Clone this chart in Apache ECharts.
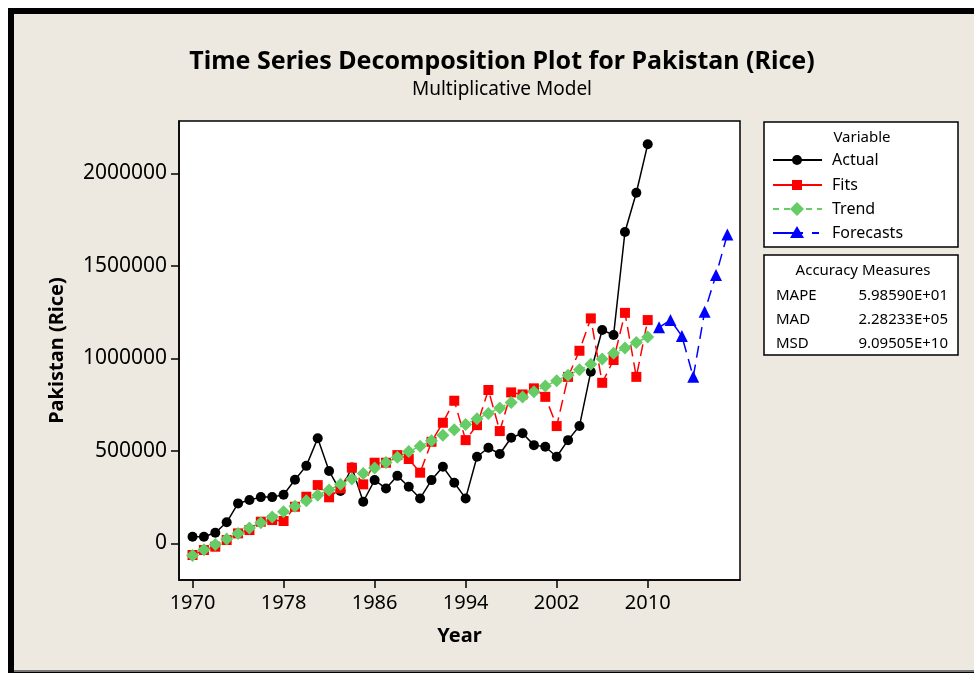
<!DOCTYPE html>
<html>
<head>
<meta charset="utf-8">
<script src="https://cdn.jsdelivr.net/npm/echarts@6/dist/echarts.min.js"></script>
<style>
    body { margin: 0; background: #fff; }
    #frame { position: absolute; left: 8px; top: 8px; width: 966px; height: 665px; background: #000; }
    #paper { position: absolute; left: 14px; top: 14px; width: 960px; height: 656px; background: #ede9e0; border-bottom: 2px solid #777; }
    #chart { position: absolute; left: 0; top: 0; width: 974px; height: 673px; }
</style>
</head>
<body>
<div id="frame"></div>
<div id="paper"></div>
<div id="chart"></div>
<script>
// yearly series 1970-2010
const years = [1970, 1971, 1972, 1973, 1974, 1975, 1976, 1977, 1978, 1979,
    1980, 1981, 1982, 1983, 1984, 1985, 1986, 1987, 1988, 1989,
    1990, 1991, 1992, 1993, 1994, 1995, 1996, 1997, 1998, 1999,
    2000, 2001, 2002, 2003, 2004, 2005, 2006, 2007, 2008, 2009, 2010];

const actual = [36000, 36000, 57000, 114000, 216000, 234000, 250000, 250000, 263000, 344000,
    419000, 568000, 391000, 283000, 410000, 225000, 342000, 297000, 365000, 306000,
    243000, 342000, 414000, 328000, 243000, 468000, 517000, 483000, 571000, 595000,
    531000, 522000, 468000, 558000, 634000, 928000, 1153000, 1126000, 1683000, 1895000, 2157000];

const fits = [-63000, -36000, -18000, 18000, 54000, 72000, 117000, 126000, 121000, 198000,
    252000, 315000, 249000, 297000, 409000, 319000, 436000, 436000, 477000, 456000,
    382000, 549000, 652000, 771000, 558000, 639000, 829000, 607000, 816000, 805000,
    838000, 792000, 634000, 900000, 1041000, 1216000, 868000, 991000, 1246000, 900000, 1207000];

const trend = [-65000, -35000, -6000, 24000, 53000, 83000, 112000, 142000, 171000, 201000,
    230000, 260000, 289000, 319000, 348000, 378000, 407000, 437000, 466000, 496000,
    525000, 555000, 584000, 614000, 643000, 673000, 702000, 732000, 761000, 791000,
    820000, 850000, 879000, 909000, 938000, 968000, 997000, 1027000, 1056000, 1086000, 1115000];

// forecasts 2011-2017
const fcYears = [2011, 2012, 2013, 2014, 2015, 2016, 2017];
const forecasts = [1168000, 1207000, 1121000, 900000, 1252000, 1450000, 1670000];

const xTicks = [1970, 1978, 1986, 1994, 2002, 2010];
const yTicks = [0, 500000, 1000000, 1500000, 2000000];

const measureNames = ['MAPE', 'MAD', 'MSD'];
const measureValues = ['5.98590E+01', '2.28233E+05', '9.09505E+10'];

const pairs = (xs, ys) => xs.map((x, i) => [x, ys[i]]);

const font = 'Noto Sans';
const chart = echarts.init(document.getElementById('chart'));

// legend boxes drawn by hand, Minitab style
const legendItems = [
    { name: 'Actual', color: '#000', symbol: 'circle', dash: 'solid' },
    { name: 'Fits', color: '#ff0000', symbol: 'rect', dash: 'solid' },
    { name: 'Trend', color: '#66cc66', symbol: 'diamond', dash: [6, 5] },
    { name: 'Forecasts', color: '#0000ff', symbol: 'triangle', dash: [30, 9, 7, 10] }
];
const rowY = [160, 185, 209, 233];
const graphics = [
    { type: 'rect', shape: { x: 764, y: 122, width: 194, height: 125 }, style: { fill: '#fff', stroke: '#000', lineWidth: 1.5 } },
    { type: 'text', x: 862, y: 138, style: { text: 'Variable', font: '15px ' + font, fill: '#000', align: 'center', verticalAlign: 'middle' } },
    { type: 'rect', shape: { x: 764, y: 255, width: 194, height: 100 }, style: { fill: '#fff', stroke: '#000', lineWidth: 1.5 } },
    { type: 'text', x: 863, y: 271, style: { text: 'Accuracy Measures', font: '15px ' + font, fill: '#000', align: 'center', verticalAlign: 'middle' } }
];
const symbolPath = {
    circle: (c) => ({ type: 'circle', shape: { cx: 797, cy: c, r: 5 } }),
    rect: (c) => ({ type: 'rect', shape: { x: 792, y: c - 5, width: 10, height: 10 } }),
    diamond: (c) => ({ type: 'polygon', shape: { points: [[797, c - 7], [804, c], [797, c + 7], [790, c]] } }),
    triangle: (c) => ({ type: 'polygon', shape: { points: [[797, c - 7], [804, c + 5], [790, c + 5]] } })
};
legendItems.forEach((it, i) => {
    const c = rowY[i];
    graphics.push({ type: 'line', shape: { x1: 773, y1: c, x2: 822, y2: c }, style: { stroke: it.color, lineWidth: 2, lineDash: it.dash } });
    graphics.push(Object.assign(symbolPath[it.symbol](c), { style: { fill: it.color } }));
    graphics.push({ type: 'text', x: 832, y: c, style: { text: it.name, font: '16px ' + font, fill: '#000', verticalAlign: 'middle' } });
});
measureNames.forEach((m, i) => {
    const c = [296, 320, 344][i];
    graphics.push({ type: 'text', x: 776, y: c, style: { text: m, font: '15px ' + font, fill: '#000', verticalAlign: 'middle' } });
    graphics.push({ type: 'text', x: 948, y: c, style: { text: measureValues[i], font: '15px ' + font, fill: '#000', align: 'right', verticalAlign: 'middle' } });
});

const option = {
    backgroundColor: 'transparent',
    animation: false,
    textStyle: { fontFamily: font },
    title: {
        text: 'Time Series Decomposition Plot for Pakistan (Rice)',
        subtext: 'Multiplicative Model',
        left: 497,
        textAlign: 'center',
        top: 44,
        itemGap: 6,
        textStyle: { fontSize: 25, fontWeight: 'bold', color: '#000' },
        subtextStyle: { fontSize: 19, color: '#000' }
    },
    grid: {
        left: 179, top: 121, width: 561, height: 459,
        show: true, backgroundColor: '#fff', borderColor: '#000', borderWidth: 1.5
    },
    xAxis: {
        type: 'value',
        min: 1968.81,
        max: 2018.11,
        name: 'Year',
        nameLocation: 'middle',
        nameGap: 46,
        nameTextStyle: { fontSize: 20, fontWeight: 'bold', color: '#000' },
        axisLine: { show: true, onZero: false, lineStyle: { color: '#000', width: 1.5 } },
        axisTick: { show: true, inside: false, length: 8, customValues: xTicks, lineStyle: { color: '#000', width: 1.5 } },
        axisLabel: { customValues: xTicks, fontSize: 20, color: '#000', margin: 13, formatter: v => String(v) },
        splitLine: { show: false }
    },
    yAxis: {
        type: 'value',
        min: -198000,
        max: 2283000,
        name: 'Pakistan (Rice)',
        nameLocation: 'middle',
        nameGap: 112,
        nameTextStyle: { fontSize: 20, fontWeight: 'bold', color: '#000' },
        axisLine: { show: true, onZero: false, lineStyle: { color: '#000', width: 1.5 } },
        axisTick: { show: true, inside: false, length: 8, customValues: yTicks, lineStyle: { color: '#000', width: 1.5 } },
        axisLabel: { customValues: yTicks, fontSize: 21, color: '#000', margin: 12, formatter: v => String(v) },
        splitLine: { show: false }
    },
    series: [
        {
            name: 'Actual', type: 'line', data: pairs(years, actual),
            symbol: 'circle', symbolSize: 10,
            itemStyle: { color: '#000' }, lineStyle: { color: '#000', width: 1.5 }
        },
        {
            name: 'Fits', type: 'line', data: pairs(years, fits),
            symbol: 'rect', symbolSize: 10,
            itemStyle: { color: '#ff0000' }, lineStyle: { color: '#ff0000', width: 1.5, type: [12, 6] }
        },
        {
            name: 'Trend', type: 'line', data: pairs(years, trend),
            symbol: 'diamond', symbolSize: 13,
            itemStyle: { color: '#66cc66' }, lineStyle: { color: '#66cc66', width: 1.5, type: [6, 5] }
        },
        {
            name: 'Forecasts', type: 'line', data: pairs(fcYears, forecasts),
            symbol: 'triangle', symbolSize: 12,
            itemStyle: { color: '#0000ff' }, lineStyle: { color: '#0000ff', width: 1.5, type: [12, 7] }
        }
    ],
    graphic: graphics
};

chart.setOption(option);
</script>
</body>
</html>
